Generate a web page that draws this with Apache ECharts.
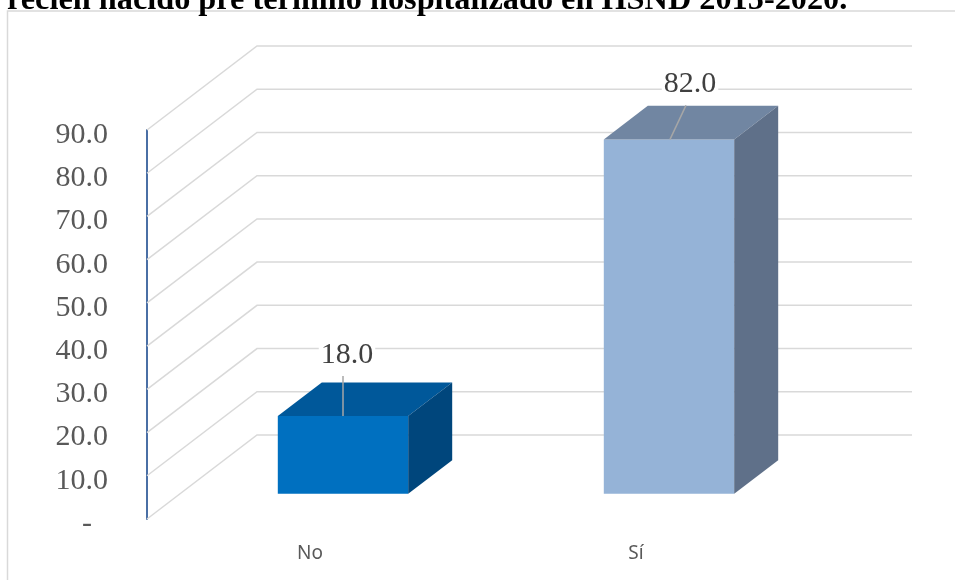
<!DOCTYPE html>
<html>
<head>
<meta charset="utf-8">
<script src="https://cdn.jsdelivr.net/npm/echarts@6/dist/echarts.min.js"></script>
<style>
  html, body { margin: 0; padding: 0; background: #ffffff; }
  #chart { width: 955px; height: 580px; }
</style>
</head>
<body>
<div id="chart"></div>
<script>
// Chart data
const titleText = 'recién nacido pre término hospitalizado en HSND 2015-2020.';
const categories = ['No', 'Sí'];
const values = [18.0, 82.0];
const yTicks = [0, 10, 20, 30, 40, 50, 60, 70, 80, 90];

// Face colours of each 3D column: front, top, right side
const frontColors = ['#0070C0', '#95B3D7'];
const topColors = ['#00589A', '#7186A2'];
const sideColors = ['#00467C', '#5F7089'];

// Perspective of the box: offset from the front plane to the back wall
const DEPTH = [110, -84];
const BAR_NEAR = 0.3;   // front face of the columns (fraction of depth)
const BAR_FAR = 0.7;    // back face of the columns
const BAR_WIDTH = 0.4;  // fraction of the category band
// Label / leader-line nudges per column, relative to the front top centre
const LABEL_NUDGE = [
  { tx: 4, ty: -61, lx1: 0, ly1: -40, lx0: 0 },
  { tx: 21, ty: -55, lx1: 17, ly1: -34, lx0: 1 }
];

const chart = echarts.init(document.getElementById('chart'), null, { renderer: 'canvas' });

const serif = '"Liberation Serif", "Times New Roman", serif';
const sans = '"Noto Sans", "Open Sans", sans-serif';

function wallItem(params, api) {
  const cs = params.coordSys;
  const y = api.coord([0, api.value(1)])[1];
  const x0 = cs.x;
  const x1 = cs.x + cs.width + DEPTH[0] + 3;
  return {
    type: 'polyline',
    silent: true,
    shape: { points: [[x0, y], [x0 + DEPTH[0], y + DEPTH[1]], [x1, y + DEPTH[1]]] },
    style: { stroke: '#D9D9D9', lineWidth: 1.5, fill: null }
  };
}

function columnItem(params, api) {
  const i = api.value(0);
  const v = api.value(1);
  const top = api.coord([i, v]);
  const base = api.coord([i, 0]);
  const band = api.size([1, 0])[0];
  const w = band * BAR_WIDTH;
  const nx = DEPTH[0] * BAR_NEAR, ny = DEPTH[1] * BAR_NEAR;
  const fx = DEPTH[0] * (BAR_FAR - BAR_NEAR), fy = DEPTH[1] * (BAR_FAR - BAR_NEAR);
  const l = top[0] - w / 2 + nx;
  const r = top[0] + w / 2 + nx;
  const t = top[1] + ny;
  const b = base[1] + ny;
  const cx = (l + r) / 2;
  const n = LABEL_NUDGE[i];
  return {
    type: 'group',
    children: [
      {
        type: 'rect',
        shape: { x: l, y: t, width: w, height: b - t },
        style: { fill: frontColors[i] }
      },
      {
        type: 'polygon',
        shape: { points: [[l, t], [l + fx, t + fy], [r + fx, t + fy], [r, t]] },
        style: { fill: topColors[i] }
      },
      {
        type: 'polygon',
        shape: { points: [[r, t], [r + fx, t + fy], [r + fx, b + fy], [r, b]] },
        style: { fill: sideColors[i] }
      },
      {
        type: 'line',
        shape: { x1: cx + n.lx0, y1: t, x2: cx + n.lx1, y2: t + n.ly1 },
        style: { stroke: '#A6A6A6', lineWidth: 1.5 }
      },
      {
        type: 'text',
        style: {
          text: v.toFixed(1),
          x: cx + n.tx,
          y: t + n.ty,
          align: 'center',
          verticalAlign: 'middle',
          font: '30px ' + serif,
          fill: '#404040',
          backgroundColor: '#ffffff',
          padding: [0, 2]
        }
      }
    ]
  };
}

const option = {
  backgroundColor: '#ffffff',
  animation: false,
  graphic: [
    {
      type: 'rect',
      silent: true,
      shape: { x: 7.5, y: 11, width: 1200, height: 1200 },
      style: { fill: null, stroke: '#D9D9D9', lineWidth: 1.5 },
      z: -10
    },
    {
      type: 'text',
      silent: true,
      style: {
        text: titleText,
        x: 7,
        y: 1,
        verticalAlign: 'middle',
        font: 'bold 32.3px ' + serif,
        fill: '#000000'
      }
    }
  ],
  grid: { left: 147, right: 156, top: 130, bottom: 61 },
  xAxis: {
    type: 'category',
    data: categories,
    axisLine: { show: false },
    axisTick: { show: false },
    splitLine: { show: false },
    axisLabel: { margin: 25, fontFamily: sans, fontSize: 19, color: '#595959' }
  },
  yAxis: {
    type: 'value',
    min: 0,
    max: 90,
    interval: 10,
    axisLine: { show: true, lineStyle: { color: '#4A6FA5', width: 2 } },
    axisTick: { show: false },
    splitLine: { show: false },
    axisLabel: {
      margin: 39,
      fontFamily: serif,
      fontSize: 30,
      color: '#595959',
      padding: [10, 0, 0, 0],
      formatter: function (v) { return v === 0 ? '{d|-}' : v.toFixed(1); },
      rich: { d: { fontFamily: serif, fontSize: 30, color: '#595959', padding: [0, 16, 0, 0] } }
    }
  },
  series: [
    {
      type: 'custom',
      name: 'walls',
      silent: true,
      clip: false,
      renderItem: wallItem,
      data: yTicks.map(function (t) { return [0, t]; }),
      z: 1
    },
    {
      type: 'custom',
      name: 'columns',
      clip: false,
      renderItem: columnItem,
      data: values.map(function (v, i) { return [i, v]; }),
      z: 2
    }
  ]
};

chart.setOption(option);
</script>
</body>
</html>
